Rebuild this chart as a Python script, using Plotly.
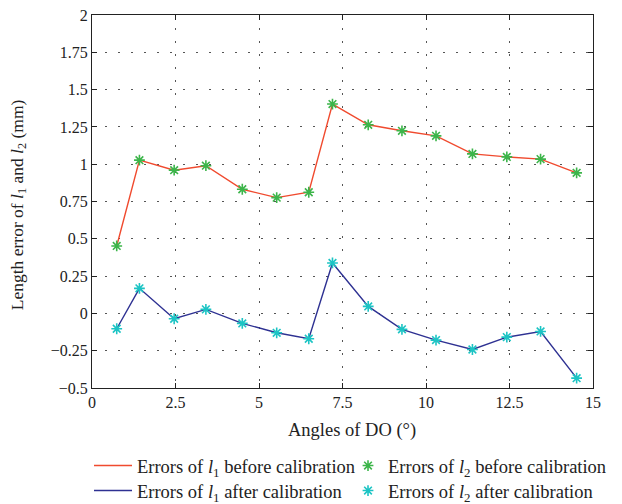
import plotly.graph_objects as go

angles = [0.74, 1.42, 2.46, 3.41, 4.50, 5.53, 6.49, 7.20, 8.27, 9.28, 10.30, 11.39, 12.42, 13.43, 14.51]
l1_before = [0.452, 1.027, 0.96, 0.99, 0.832, 0.776, 0.812, 1.403, 1.264, 1.224, 1.19, 1.069, 1.049, 1.034, 0.942]
l2_before = [0.452, 1.027, 0.96, 0.99, 0.832, 0.776, 0.812, 1.403, 1.264, 1.224, 1.19, 1.069, 1.049, 1.034, 0.942]
l1_after = [-0.103, 0.168, -0.036, 0.027, -0.067, -0.13, -0.17, 0.338, 0.047, -0.107, -0.179, -0.242, -0.159, -0.121, -0.434]
l2_after = [-0.103, 0.168, -0.036, 0.027, -0.067, -0.13, -0.17, 0.338, 0.047, -0.107, -0.179, -0.242, -0.159, -0.121, -0.434]

x_ticks = [0, 2.5, 5, 7.5, 10, 12.5, 15]
x_ticktext = ["0", "2.5", "5", "7.5", "10", "12.5", "15"]
y_ticks = [-0.5, -0.25, 0, 0.25, 0.5, 0.75, 1, 1.25, 1.5, 1.75, 2]
y_ticktext = ["\u22120.5", "\u22120.25", "0", "0.25", "0.5", "0.75", "1", "1.25", "1.5", "1.75", "2"]

x_title = "Angles of DO (°)"
y_title = "Length error of <i>l</i><sub>1</sub> and <i>l</i><sub>2</sub> (mm)"

FONT = "Liberation Serif"
TXT = "#222"
RED = "#f04a2e"
GREEN = "#3cb54a"
BLUE = "#2e3192"
CYAN = "#1cc4c4"

fig = go.Figure()
fig.add_trace(go.Scatter(x=angles, y=l1_before, mode="lines", line=dict(color=RED, width=1.4),
                         name="Errors of <i>l</i><sub>1</sub> before calibration", legend="legend"))
fig.add_trace(go.Scatter(x=angles, y=l2_before, mode="markers",
                         marker=dict(symbol="asterisk-open", size=9, color=GREEN, line=dict(color=GREEN, width=1.6)),
                         name="Errors of <i>l</i><sub>2</sub> before calibration", legend="legend2"))
fig.add_trace(go.Scatter(x=angles, y=l1_after, mode="lines", line=dict(color=BLUE, width=1.4),
                         name="Errors of <i>l</i><sub>1</sub> after calibration", legend="legend3"))
fig.add_trace(go.Scatter(x=angles, y=l2_after, mode="markers",
                         marker=dict(symbol="asterisk-open", size=9, color=CYAN, line=dict(color=CYAN, width=1.6)),
                         name="Errors of <i>l</i><sub>2</sub> after calibration", legend="legend4"))

axis_common = dict(
    showline=True, linecolor=TXT, linewidth=1.2, mirror="ticks",
    ticks="inside", ticklen=5, tickcolor=TXT,
    showgrid=True, gridcolor="#555", griddash="2px,11px", gridwidth=1,
    zeroline=False, tickfont=dict(family=FONT, size=16, color=TXT),
    automargin=False, ticklabeloverflow="allow",
)

fig.update_xaxes(range=[0, 15], tickvals=x_ticks, ticktext=x_ticktext, **axis_common)
fig.update_yaxes(range=[-0.5, 2], tickvals=y_ticks, ticktext=y_ticktext, **axis_common)

fig.add_annotation(text=x_title, xref="paper", yref="paper", x=0.519, y=-0.115,
                   xanchor="center", yanchor="middle", showarrow=False,
                   font=dict(family=FONT, size=18.5, color=TXT))
fig.add_annotation(text=y_title, xref="paper", yref="paper", x=-0.1477, y=0.49,
                   xanchor="center", yanchor="middle", showarrow=False, textangle=-90,
                   font=dict(family=FONT, size=17.5, color=TXT))

leg_common = dict(orientation="h", xanchor="left", yref="container", yanchor="middle",
                  font=dict(family=FONT, size=18.5, color=TXT), bgcolor="rgba(0,0,0,0)")
x_col1 = -3 / 501
x_col2 = 0.511
y_row1 = 1 - 458 / 496
y_row2 = 1 - 483 / 496

fig.update_layout(
    width=614, height=496,
    margin=dict(l=84, r=29, t=7, b=116, autoexpand=False),
    paper_bgcolor="white", plot_bgcolor="white",
    font=dict(family=FONT, color=TXT),
    showlegend=True,
    legend=dict(x=x_col1, y=y_row1, itemwidth=38, **leg_common),
    legend2=dict(x=x_col2, y=y_row1, itemwidth=30, **leg_common),
    legend3=dict(x=x_col1, y=y_row2, itemwidth=38, **leg_common),
    legend4=dict(x=x_col2, y=y_row2, itemwidth=30, **leg_common),
)

fig.write_html("out.html")
